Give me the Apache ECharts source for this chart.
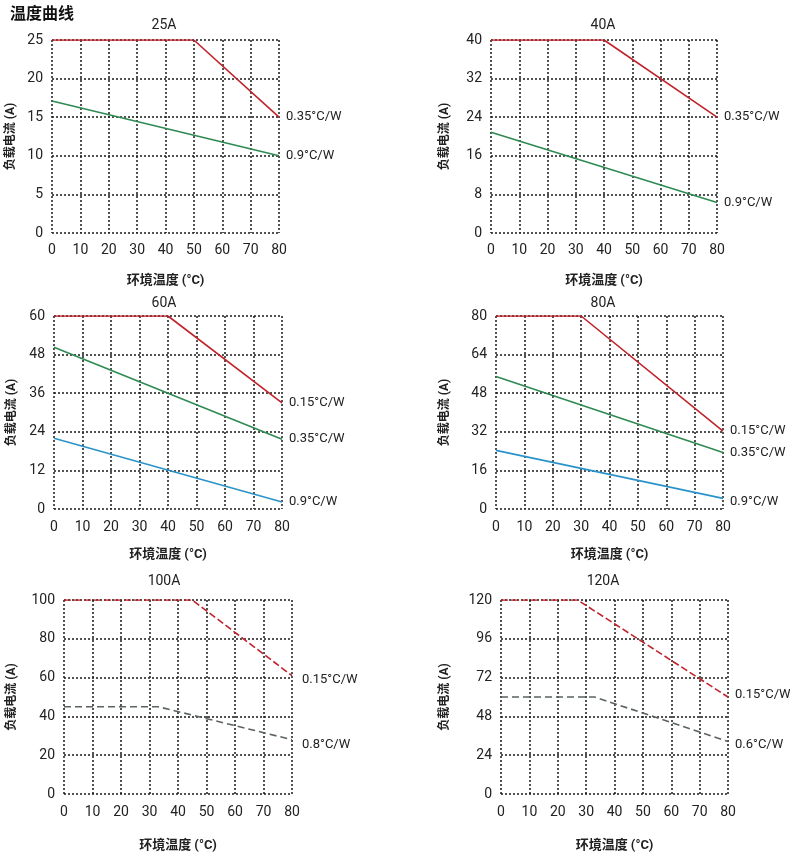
<!DOCTYPE html>
<html>
<head>
<meta charset="utf-8">
<script src="https://cdn.jsdelivr.net/npm/echarts@6/dist/echarts.min.js"></script>
<style>
html,body{margin:0;padding:0;background:#fff;}
#main{width:790px;height:853px;}
</style>
</head>
<body>
<div id="main"></div>
<script>
// ---- data ----
const chartTitles = ['25A', '40A', '60A', '80A', '100A', '120A'];
const xTickMin = 0, xTickMax = 80, xTickStep = 10;
const yMaxes = [25, 40, 60, 80, 100, 120];
const ySteps = [5, 8, 12, 16, 20, 24];
const xName = '环境温度 (°C)';
const yName = '负载电流 (A)';

const c25_035 = [[0, 25], [50, 25], [80, 15]];
const c25_09 = [[0, 17.1], [80, 10]];
const c40_035 = [[0, 40], [40, 40], [80, 24]];
const c40_09 = [[0, 20.9], [80, 6.3]];
const c60_015 = [[0, 60], [40, 60], [80, 33]];
const c60_035 = [[0, 50.3], [80, 21.7]];
const c60_09 = [[0, 22], [80, 2.2]];
const c80_015 = [[0, 80], [30, 80], [80, 32.3]];
const c80_035 = [[0, 54.9], [80, 23.4]];
const c80_09 = [[0, 24.3], [80, 4.4]];
const c100_015 = [[0, 100], [45, 100], [80, 61]];
const c100_08 = [[0, 45], [33, 45], [80, 28]];
const c120_015 = [[0, 120], [27, 120], [80, 60]];
const c120_06 = [[0, 60], [33, 60], [80, 32.5]];

// ---- layout / style ----
const RED = '#c0232b', GREEN = '#2e8a52', BLUE = '#2a93c9', GRAY = '#5b6262';
const FONT = 'Roboto, "Noto Sans CJK SC", sans-serif';
const grids = [
  {left: 52, top: 40, width: 227, height: 193},
  {left: 491, top: 40, width: 226, height: 193},
  {left: 54, top: 316, width: 228, height: 193},
  {left: 496, top: 316, width: 227, height: 193},
  {left: 64, top: 600, width: 228, height: 194},
  {left: 501, top: 600, width: 227, height: 194}
];
const yNameGaps = [35, 40, 36, 45, 46, 50];
const xNameGaps = [41, 41, 39, 39, 45, 45];
const titlePos = [[159, 14], [598, 14], [159, 292], [598, 292], [159, 569], [598, 569]];

const seriesDefs = [
  {g: 0, name: '0.35°C/W', data: c25_035, color: RED},
  {g: 0, name: '0.9°C/W', data: c25_09, color: GREEN},
  {g: 1, name: '0.35°C/W', data: c40_035, color: RED},
  {g: 1, name: '0.9°C/W', data: c40_09, color: GREEN},
  {g: 2, name: '0.15°C/W', data: c60_015, color: RED},
  {g: 2, name: '0.35°C/W', data: c60_035, color: GREEN},
  {g: 2, name: '0.9°C/W', data: c60_09, color: BLUE},
  {g: 3, name: '0.15°C/W', data: c80_015, color: RED},
  {g: 3, name: '0.35°C/W', data: c80_035, color: GREEN},
  {g: 3, name: '0.9°C/W', data: c80_09, color: BLUE, offset: [0, 3]},
  {g: 4, name: '0.15°C/W', data: c100_015, color: RED, dash: [7, 3], offset: [3, 4]},
  {g: 4, name: '0.8°C/W', data: c100_08, color: GRAY, dash: [7, 4], offset: [3, 5]},
  {g: 5, name: '0.15°C/W', data: c120_015, color: RED, dash: [7, 3], offset: [0, -2]},
  {g: 5, name: '0.6°C/W', data: c120_06, color: GRAY, dash: [7, 4], offset: [0, 3]}
];

const gridLineStyle = {color: '#1a1a1a', type: [2, 2], width: 1.5};
const option = {
  animation: false,
  textStyle: {fontFamily: FONT},
  title: [{text: '温度曲线', left: 5, top: 2, textStyle: {fontSize: 16, fontWeight: 'bold', color: '#111', fontFamily: FONT}}]
    .concat(chartTitles.map((t, i) => ({
      text: t, left: titlePos[i][0], top: titlePos[i][1], textAlign: 'center',
      textStyle: {fontSize: 14, fontWeight: 'normal', color: '#222', fontFamily: FONT}
    }))),
  grid: grids.map(g => Object.assign({containLabel: false}, g)),
  xAxis: grids.map((g, i) => ({
    type: 'value', gridIndex: i, min: xTickMin, max: xTickMax, interval: xTickStep,
    name: xName, nameLocation: 'middle', nameGap: xNameGaps[i],
    nameTextStyle: {fontSize: 13, fontWeight: 'bold', color: '#222', fontFamily: FONT},
    axisLine: {show: false}, axisTick: {show: false},
    axisLabel: {fontSize: 14, color: '#222', margin: 11, fontFamily: FONT},
    splitLine: {show: true, lineStyle: gridLineStyle}
  })),
  yAxis: grids.map((g, i) => ({
    type: 'value', gridIndex: i, min: 0, max: yMaxes[i], interval: ySteps[i],
    name: yName, nameLocation: 'middle', nameGap: yNameGaps[i],
    nameTextStyle: {fontSize: 12, fontWeight: 'bold', color: '#222', fontFamily: FONT},
    axisLine: {show: false}, axisTick: {show: false},
    axisLabel: {fontSize: 14, color: '#222', margin: 9, fontFamily: FONT},
    splitLine: {show: true, lineStyle: gridLineStyle}
  })),
  series: seriesDefs.map(s => ({
    type: 'line', name: s.name, xAxisIndex: s.g, yAxisIndex: s.g,
    data: s.data, symbol: 'none', silent: true,
    lineStyle: {color: s.color, width: 1.6, type: s.dash || 'solid'},
    itemStyle: {color: s.color},
    endLabel: {
      show: true, formatter: '{a}', distance: 7, offset: s.offset || [0, 0],
      color: '#222', fontSize: 13, fontFamily: FONT
    }
  }))
};

const chart = echarts.init(document.getElementById('main'), null, {renderer: 'canvas'});
chart.setOption(option);
</script>
</body>
</html>
